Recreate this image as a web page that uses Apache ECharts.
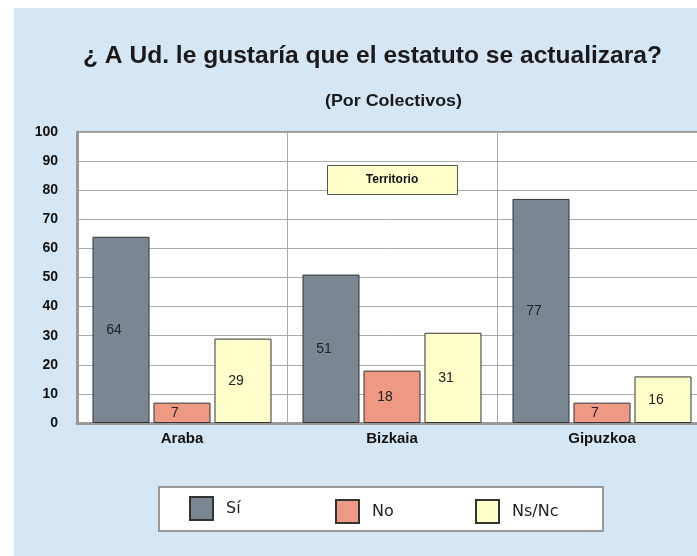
<!DOCTYPE html>
<html>
<head>
<meta charset="utf-8">
<script src="https://cdn.jsdelivr.net/npm/echarts@6/dist/echarts.min.js"></script>
<style>
  html, body { margin: 0; padding: 0; background: #fff; }
  #main {
    width: 697px; height: 556px;
    background: linear-gradient(#d5e6f4, #d5e6f4) 14px 8px / 100% 100% no-repeat, #fff;
  }
</style>
</head>
<body>
<div id="main"></div>
<script>
// datos
const territorios = ['Araba', 'Bizkaia', 'Gipuzkoa']
const si = [64, 51, 77]
const no = [7, 18, 7]
const nsnc = [29, 31, 16]
const yTicks = [0, 100, 10] // min, max, interval

const myChart = echarts.init(document.getElementById('main'))

const font = 'Liberation Sans, Arial, sans-serif'

// el original tiene el texto algo más ancho, se estira en horizontal
const ctx = document.createElement('canvas').getContext('2d')
function stretch(text, css, targetWidth) {
  ctx.font = css
  return targetWidth / ctx.measureText(text).width
}

function barSerie(name, data, color) {
  return {
    name: name,
    type: 'bar',
    data: data,
    barWidth: 57,
    barGap: '7%',
    itemStyle: { color: color, borderColor: '#333', borderWidth: 1 },
    label: {
      show: true,
      position: 'inside',
      offset: [-7, 0],
      color: '#222',
      fontSize: 14,
      fontFamily: font
    }
  }
}

function legendItem(name, left, top) {
  return {
    left: left, top: top,
    padding: 0,
    itemWidth: 23, itemHeight: 23,
    icon: 'rect',
    textStyle: {
      fontFamily: 'DejaVu Sans, Verdana, sans-serif',
      fontSize: 16, color: '#222',
      padding: [0, 0, 0, 8]
    },
    data: [name]
  }
}

const titulo = '¿ A Ud. le gustaría que el estatuto se actualizara?'
const subtitulo = '(Por Colectivos)'
const tituloFont = 'bold 23px Liberation Sans'
const subFont = 'bold 17px Liberation Sans'

const option = {
  backgroundColor: 'transparent',
  animation: false,
  graphic: [
    {
      type: 'text', x: 372.5, y: 57,
      scaleX: stretch(titulo, tituloFont, 579),
      style: { text: titulo, align: 'center', verticalAlign: 'middle', font: tituloFont, fill: '#1a1a1a' }
    },
    {
      type: 'text', x: 393.5, y: 101,
      scaleX: stretch(subtitulo, subFont, 137),
      style: { text: subtitulo, align: 'center', verticalAlign: 'middle', font: subFont, fill: '#1a1a1a' }
    },
    {
      type: 'rect', z: 0,
      shape: { x: 159, y: 487, width: 444, height: 44 },
      style: { fill: '#fff', stroke: '#999', lineWidth: 2 }
    },
    {
      type: 'rect', z: 10,
      shape: { x: 327.5, y: 165.5, width: 130, height: 29 },
      style: { fill: '#ffffcc', stroke: '#555', lineWidth: 1 }
    },
    {
      type: 'text', z: 11,
      x: 392, y: 180,
      style: {
        text: 'Territorio', align: 'center', verticalAlign: 'middle',
        font: 'bold 12px Liberation Sans, Arial', fill: '#111'
      }
    }
  ],
  legend: [
    legendItem('Sí', 189, 496),
    legendItem('No', 335, 499),
    legendItem('Ns/Nc', 475, 499)
  ],
  grid: {
    left: 77, top: 132, height: 291, width: 630,
    outerBoundsMode: 'none',
    show: true, backgroundColor: '#fff',
    borderColor: '#999', borderWidth: 2
  },
  xAxis: {
    type: 'category',
    data: territorios,
    axisLine: { lineStyle: { color: '#999', width: 3 } },
    axisTick: { show: false },
    splitLine: { show: true, lineStyle: { color: '#aaa', width: 1 } },
    axisLabel: { fontFamily: font, fontWeight: 'bold', fontSize: 15, color: '#111', margin: 8 }
  },
  yAxis: {
    type: 'value',
    min: yTicks[0], max: yTicks[1], interval: yTicks[2],
    axisLine: { show: true, lineStyle: { color: '#999', width: 3 } },
    axisTick: { show: false },
    splitLine: { lineStyle: { color: '#aaa', width: 1 } },
    axisLabel: { fontFamily: font, fontWeight: 'bold', fontSize: 14, color: '#111', margin: 19 }
  },
  series: [
    barSerie('Sí', si, '#7a8793'),
    barSerie('No', no, '#ee9984'),
    barSerie('Ns/Nc', nsnc, '#ffffcc')
  ]
}

myChart.setOption(option)
</script>
</body>
</html>
